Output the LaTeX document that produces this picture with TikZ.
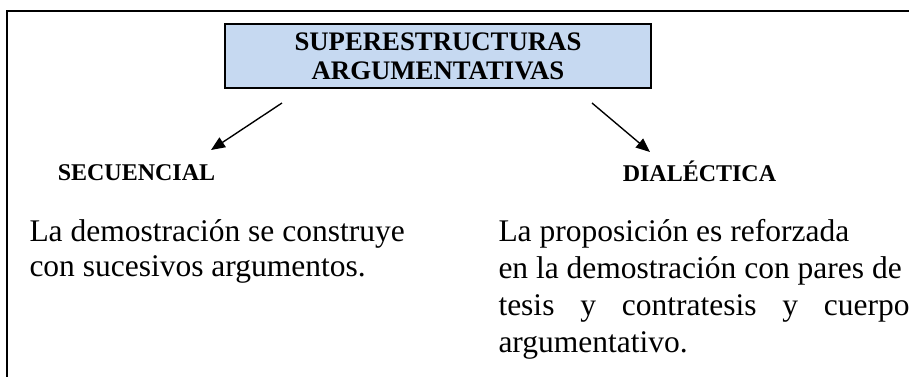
\documentclass[tikz,border=0pt]{standalone}
\usepackage{fontspec}
\setmainfont{Liberation Serif}
\usepackage{tikz}
\usetikzlibrary{arrows.meta}
\definecolor{boxblue}{RGB}{198,217,241}
\tikzstyle{titlebox} = [draw, line width=1pt, fill=boxblue, minimum width=170.4pt, minimum height=25.6pt, inner sep=0pt, align=center, font=\fontsize{10.7}{11.6}\selectfont\bfseries]
\tikzstyle{head} = [anchor=base, inner sep=0pt, font=\fontsize{9.6}{11}\selectfont\bfseries]
\tikzstyle{para} = [anchor=base west, inner sep=0pt, align=left]
\tikzstyle{arr} = [-{Triangle[length=5.6pt,width=4.6pt]}, line width=0.55pt]

\begin{document}
\begin{tikzpicture}[x=0.4pt,y=0.4pt]
\useasboundingbox (0,0) rectangle (909,376);
\draw [line width=0.8pt] (7,-10) -- (7,365.5) -- (920,365.5);
\node[titlebox] (title) at (438,320) {SUPERESTRUCTURAS\\ARGUMENTATIVAS};
\node[head] (sec) at (136.5,196) {SECUENCIAL};
\node[head] (dia) at (699.5,195) {DIALÉCTICA};
\coordinate (secfrom) at (282,273);
\coordinate (secto) at (211,226);
\coordinate (diafrom) at (592,273);
\coordinate (diato) at (650,224);
\draw [arr] (secfrom) -- (secto);
\draw [arr] (diafrom) -- (diato);
% the base anchor sits on the last line
\node[para, font=\fontsize{12.6}{14}\selectfont] (sectext) at (29,100) {La demostración se construye\\con sucesivos argumentos.};
\node[para, font=\fontsize{12.6}{14.8}\selectfont] (diatext) at (498,24) {La proposición es reforzada\\en la demostración con pares de\\\makebox[164.4pt][s]{tesis y contratesis y cuerpo}\\argumentativo.};
\end{tikzpicture}
\end{document}
